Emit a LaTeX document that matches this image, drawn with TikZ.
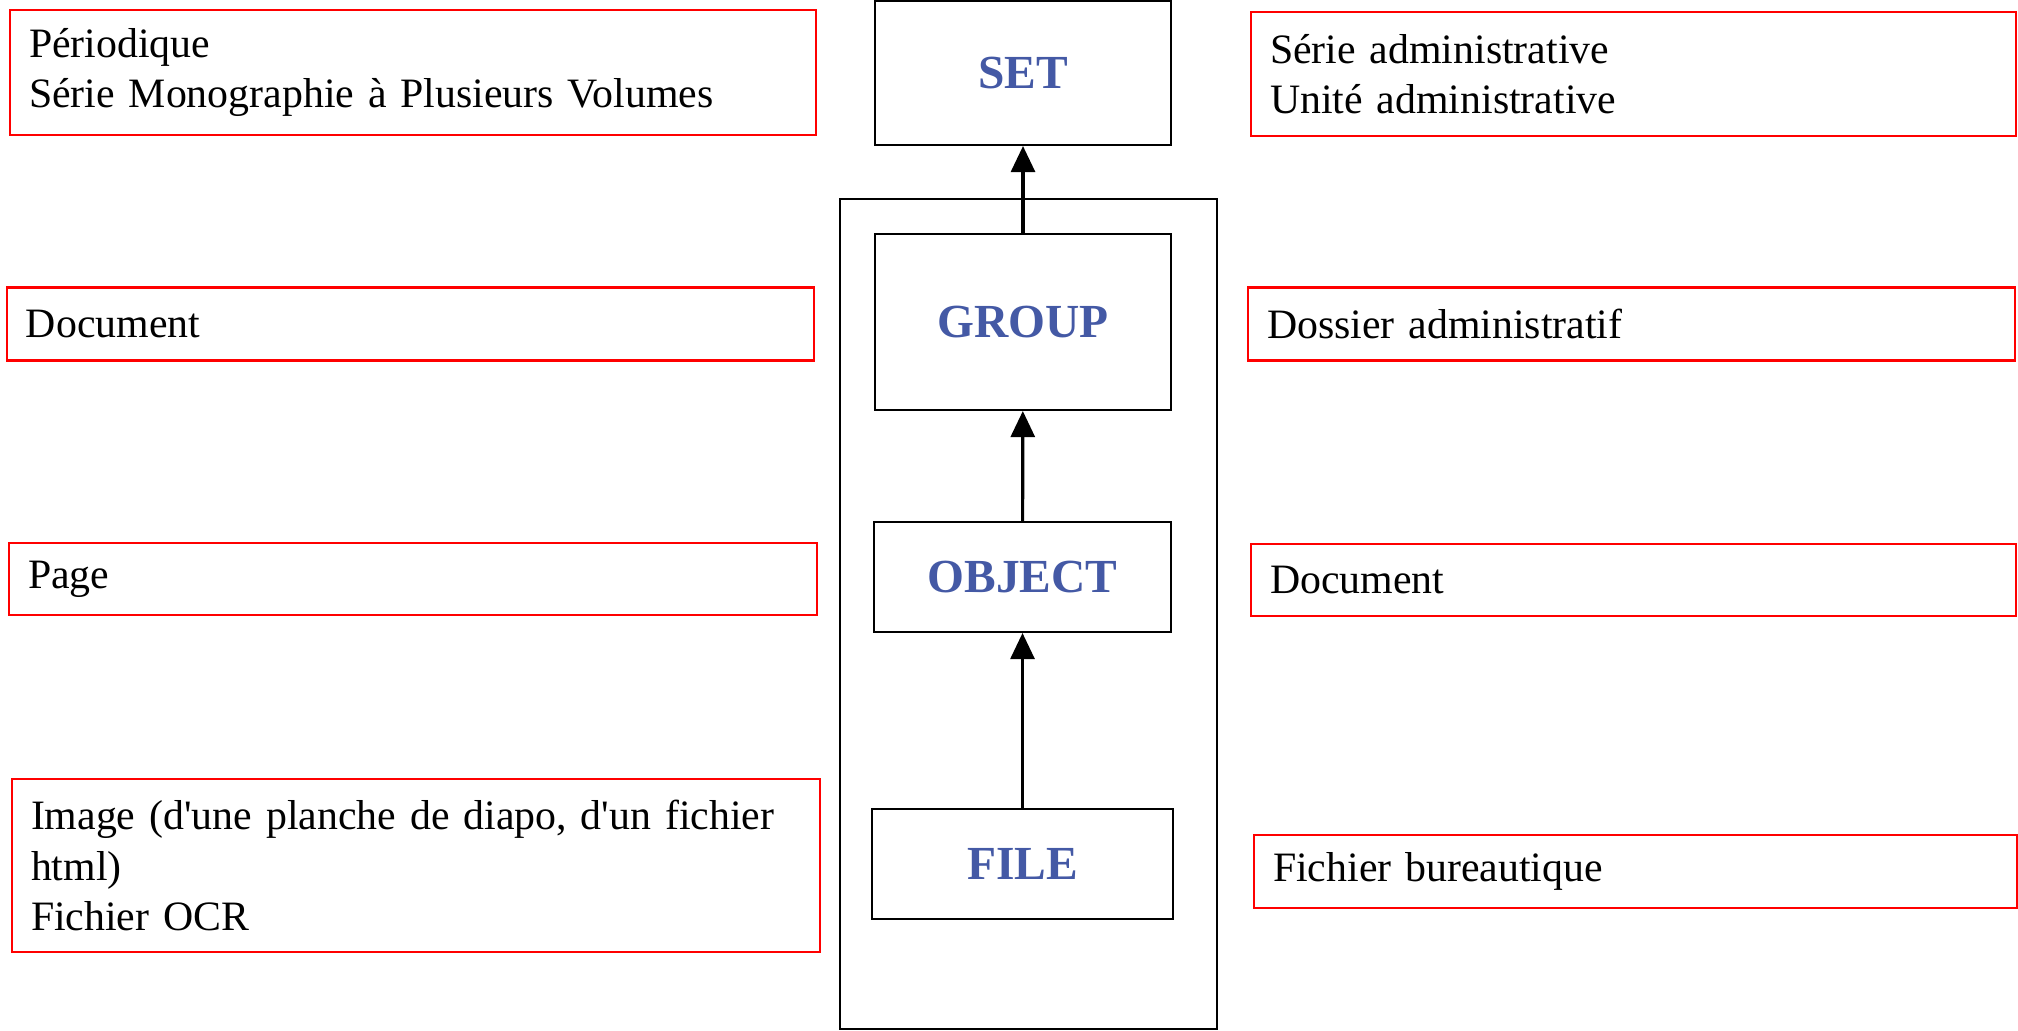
\documentclass[tikz,border=0pt]{standalone}
\usepackage{fontspec}
\setmainfont{Liberation Serif}[Ligatures=TeXOff]
\usepackage{tikz}
\usetikzlibrary{arrows.meta}
\definecolor{lvlblue}{RGB}{68,89,165}
\tikzstyle{redbox}=[draw=red,line width=0.6pt,rectangle,inner xsep=0.19cm,align=left,font=\fontsize{11.9}{14.4}\selectfont]
\tikzstyle{lvl}=[draw=black,line width=0.6pt,rectangle,text=lvlblue,font=\fontsize{13.5}{16}\selectfont\bfseries]
\tikzstyle{up}=[line width=0.9pt,-{Triangle[length=7.4pt,width=6.8pt]}]

\begin{document}
\begin{tikzpicture}
\useasboundingbox (0,0) rectangle (20.18,10.31);
\node[draw=black,line width=0.6pt,minimum width=3.77cm,minimum height=8.3cm] (frame) at (10.285,4.17){};
\node[lvl,minimum width=2.96cm,minimum height=1.44cm] (set) at (10.23,9.58){SET};
\node[lvl,minimum width=2.96cm,minimum height=1.76cm] (group) at (10.23,7.09){GROUP};
\node[lvl,minimum width=2.97cm,minimum height=1.10cm] (object) at (10.225,4.54){OBJECT};
\node[lvl,minimum width=3.01cm,minimum height=1.10cm] (file) at (10.225,1.67){FILE};
\draw[up] (group)--(set);
\draw[up] (object)--(group);
\draw[up] (file)--(object);
\node[redbox,text width=7.68cm,minimum height=1.25cm] (per) at (4.13,9.585){P\'eriodique\\S\'erie Monographie \`a Plusieurs Volumes};
\node[redbox,text width=7.69cm,minimum height=0.73cm] (doc) at (4.105,7.07){Document};
\node[redbox,text width=7.70cm,minimum height=0.72cm] (page) at (4.13,4.52){Page};
\node[redbox,text width=7.70cm,minimum height=1.73cm] (img) at (4.16,1.655){Image (d'une planche de diapo, d'un fichier\\html)\\Fichier OCR};
\node[redbox,text width=7.27cm,minimum height=1.24cm] (serie) at (16.335,9.57){S\'erie administrative\\Unit\'e administrative};
\node[redbox,text width=7.29cm,minimum height=0.73cm] (dossier) at (16.315,7.07){Dossier administratif};
\node[redbox,text width=7.27cm,minimum height=0.72cm] (docadm) at (16.335,4.51){Document};
\node[redbox,text width=7.25cm,minimum height=0.73cm] (bur) at (16.355,1.595){Fichier bureautique};
\end{tikzpicture}
\end{document}
